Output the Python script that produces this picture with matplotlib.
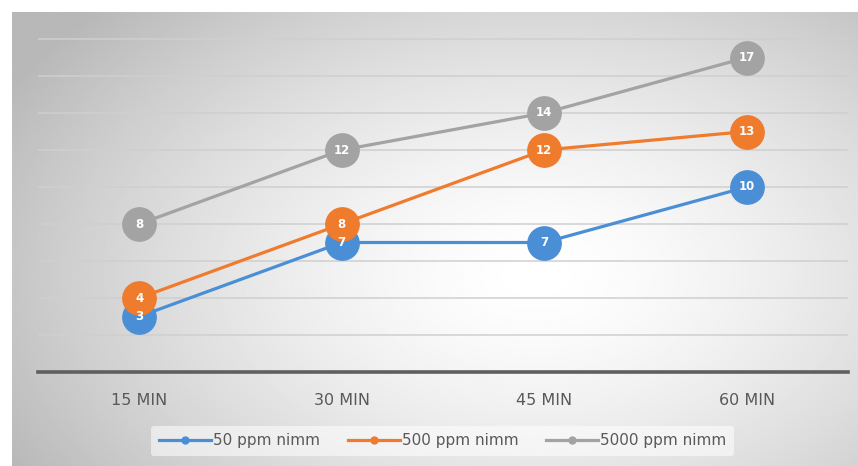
import matplotlib.pyplot as plt
import numpy as np
from matplotlib.lines import Line2D

categories = ['15 MIN', '30 MIN', '45 MIN', '60 MIN']
blue_vals = [3, 7, 7, 10]
orange_vals = [4, 8, 12, 13]
gray_vals = [8, 12, 14, 17]

series = []
series.append({'label': '50 ppm nimm', 'values': blue_vals, 'color': '#4a8fd6'})
series.append({'label': '500 ppm nimm', 'values': orange_vals, 'color': '#ef7b2d'})
series.append({'label': '5000 ppm nimm', 'values': gray_vals, 'color': '#a3a3a3'})

W, H = 858, 466
fig = plt.figure(figsize=(W / 100, H / 100), dpi=100)
fig.patch.set_facecolor('white')
plt.rc('font', family='DejaVu Sans')

# chart area background: radial gradient, light in the middle, grey at the edges
bg = fig.add_axes([12 / W, 0, (W - 12) / W, (H - 12) / H])
bg.set_zorder(-1)
yy, xx = np.mgrid[0:1:300j, 0:1:500j]
r = np.sqrt(((xx - 0.62) / 0.72) ** 2 + ((yy - 0.42) / 0.85) ** 2)
shade = 1.0 - 0.28 * np.clip(r, 0, 1) ** 1.5
bg.imshow(shade, cmap='gray', vmin=0, vmax=1, aspect='auto', extent=[0, 1, 0, 1], origin='lower')
bg.axis('off')

ax = fig.add_axes([38 / W, 1 - 372 / H, (848 - 38) / W, (372 - 20.5) / H])
ax.patch.set_alpha(0)
x = np.arange(len(categories))
ax.set_xlim(-0.5, len(categories) - 0.5)
ax.set_ylim(0, 19)

for g in range(2, 19, 2):
    ax.axhline(g, color='#cfcfcf', linewidth=1.1, zorder=1)

for s in series:
    ax.plot(x, s['values'], color=s['color'], linewidth=2.3, marker='o', markersize=24,
            markeredgecolor=s['color'], zorder=3)
for s in series:
    for xi, v in zip(x, s['values']):
        ax.text(xi, v, str(v), color='white', fontsize=8.5, fontweight='bold',
                ha='center', va='center', zorder=5)

for side in ['top', 'right', 'left']:
    ax.spines[side].set_visible(False)
ax.spines['bottom'].set_color('#5f5f5f')
ax.spines['bottom'].set_linewidth(2.6)
ax.set_yticks([])
ax.set_xticks(x)
ax.set_xticklabels(categories, color='#595959', fontsize=11.5)
ax.tick_params(axis='x', length=0, pad=15)

handles = [Line2D([0], [0], color=s['color'], linewidth=2.3, marker='o', markersize=5)
           for s in series]
leg = fig.legend(handles, [s['label'] for s in series], loc='center',
                 bbox_to_anchor=(0.516, 1 - 441 / H), ncol=3, frameon=True,
                 fontsize=11, handlelength=3.4, handletextpad=0.15,
                 columnspacing=1.8, borderpad=0.5, borderaxespad=0)
leg.get_frame().set_facecolor('white')
leg.get_frame().set_alpha(0.55)
leg.get_frame().set_edgecolor('none')
for t in leg.get_texts():
    t.set_color('#595959')

plt.savefig('out.png', dpi=100)
plt.close()
